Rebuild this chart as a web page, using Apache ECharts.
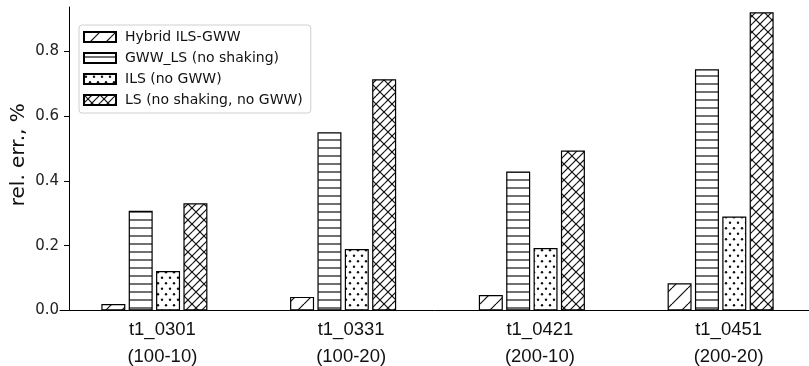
<!DOCTYPE html>
<html>
<head>
<meta charset="utf-8">
<script src="https://cdn.jsdelivr.net/npm/echarts@6/dist/echarts.min.js"></script>
<style>
html,body{margin:0;padding:0;background:#fff;}
#chart{width:809px;height:366px;}
</style>
</head>
<body>
<div id="chart"></div>
<script>
// ---- data ----
var codes = ['t1_0301', 't1_0331', 't1_0421', 't1_0451'];
var sizes = ['(100-10)', '(100-20)', '(200-10)', '(200-20)'];
var seriesNames = ['Hybrid ILS-GWW', 'GWW_LS (no shaking)', 'ILS (no GWW)', 'LS (no shaking, no GWW)'];
var hybrid = [0.020, 0.042, 0.048, 0.084];
var gwwLs = [0.308, 0.550, 0.429, 0.745];
var ils = [0.122, 0.190, 0.193, 0.290];
var ls = [0.331, 0.714, 0.494, 0.921];
var yTicks = [0, 0.2, 0.4, 0.6, 0.8];

// ---- hatch patterns ----
function tile(w, h, draw) {
  var c = document.createElement('canvas');
  c.width = w; c.height = h;
  var g = c.getContext('2d');
  g.fillStyle = '#fff'; g.fillRect(0, 0, w, h);
  g.strokeStyle = '#111'; g.fillStyle = '#111'; g.lineWidth = 1.2;
  draw(g, w, h);
  return {image: c, repeat: 'repeat'};
}
function line(g, x1, y1, x2, y2) { g.beginPath(); g.moveTo(x1, y1); g.lineTo(x2, y2); g.stroke(); }

var patHybrid = tile(16, 16, function (g, s) {
  for (var k = -1; k <= 1; k++) line(g, k * s, s, k * s + s, 0);
});
var patGww = tile(8, 8, function (g, w, h) {
  line(g, 0, 4, w, 4);
});
var patIls = tile(8, 11, function (g) {
  [[2, 2.75], [6, 8.25]].forEach(function (p) { g.beginPath(); g.arc(p[0], p[1], 1.2, 0, Math.PI * 2); g.fill(); });
});
var patLs = tile(16, 16, function (g, s) {
  for (var k = -2; k <= 2; k++) line(g, k * 8, s, k * 8 + s, 0);
  for (var m = -1; m <= 1; m++) line(g, m * s, 0, m * s + s, s);
});
var patterns = [patHybrid, patGww, patIls, patLs];
var values = [hybrid, gwwLs, ils, ls];

var categories = codes.map(function (c, i) { return c + '\n' + sizes[i]; });

var chart = echarts.init(document.getElementById('chart'), null, {renderer: 'canvas'});
var series = seriesNames.map(function (n, i) {
  return {
    name: n,
    type: 'bar',
    data: values[i],
    barWidth: 24,
    barGap: '14%',
    itemStyle: {color: patterns[i], borderColor: '#000', borderWidth: 1.2},
    emphasis: {disabled: true}
  };
});

chart.setOption({
  animation: false,
  backgroundColor: '#fff',
  grid: {left: 60, right: -6, top: 7, bottom: 55.5, containLabel: false, outerBoundsMode: 'none'},
  legend: {
    orient: 'vertical',
    left: 79, top: 25,
    data: seriesNames,
    icon: 'rect',
    itemWidth: 32, itemHeight: 10,
    itemGap: 7,
    padding: [5, 8, 6, 4],
    backgroundColor: '#fff',
    borderColor: '#d0d0d0', borderWidth: 1, borderRadius: 3,
    textStyle: {fontFamily: 'DejaVu Sans', fontSize: 14, color: '#111', lineHeight: 14, padding: [0, 0, 0, 4]},
    selectedMode: false
  },
  xAxis: {
    type: 'category',
    data: categories,
    boundaryGap: true,
    axisLine: {lineStyle: {color: '#000', width: 1}},
    axisTick: {alignWithLabel: true, length: 5, lineStyle: {color: '#000'}},
    axisLabel: {
      fontFamily: 'Liberation Sans', fontSize: 18.5, color: '#111',
      lineHeight: 27, margin: 6, padding: [0, 0, 0, 16], interval: 0
    }
  },
  yAxis: {
    type: 'value',
    min: 0, max: 0.937,
    offset: -9,
    name: 'rel. err., %',
    nameLocation: 'middle',
    nameGap: 40,
    nameMoveOverlap: false,
    nameTextStyle: {fontFamily: 'DejaVu Sans', fontSize: 20, color: '#111', padding: [0, 0, 0, 8]},
    splitLine: {show: false},
    axisLine: {show: true, lineStyle: {color: '#000', width: 1}},
    axisTick: {show: true, length: 5, lineStyle: {color: '#000'}, customValues: yTicks},
    axisLabel: {
      fontFamily: 'DejaVu Sans', fontSize: 15, color: '#222', margin: 10,
      customValues: yTicks,
      formatter: function (v) { return v.toFixed(1); }
    }
  },
  series: series
});
</script>
</body>
</html>
